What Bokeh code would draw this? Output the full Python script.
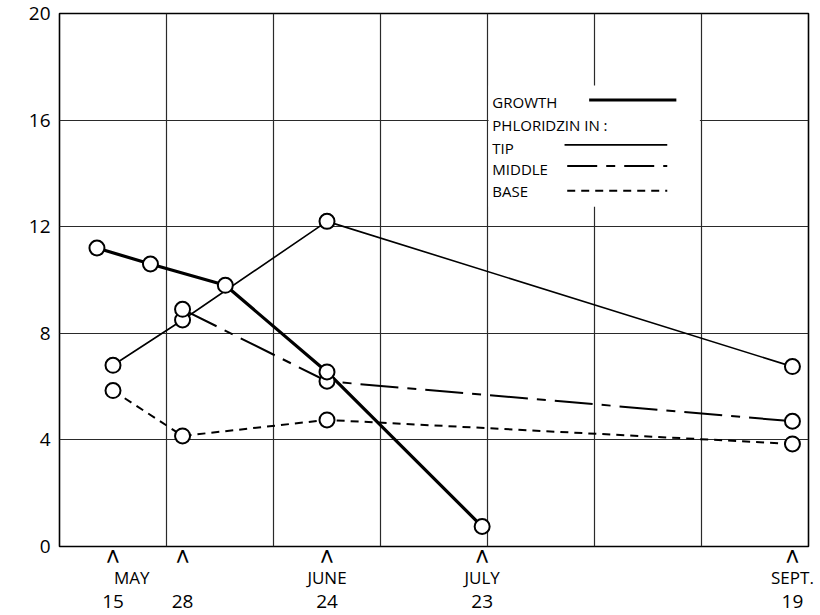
from bokeh.plotting import figure
from bokeh.models import Range1d, FixedTicker, Label, LinearAxis
from bokeh.embed import file_html
from bokeh.resources import INLINE

# x values: days after May 1 (May 15 = 14, Sept 19 = 141)
growth_day = [11, 21, 35, 54, 83]
growth_val = [11.2, 10.6, 9.8, 6.55, 0.75]
tip_day = [14, 27, 54, 141]
tip_val = [6.8, 8.5, 12.2, 6.75]
middle_day = [27, 54, 141]
middle_val = [8.9, 6.2, 4.7]
base_day = [14, 27, 54, 141]
base_val = [5.85, 4.15, 4.75, 3.85]

date_ticks = [14, 27, 54, 83, 141]
day_labels = ["15", "28", "24", "23", "19"]
month_ticks = [17.5, 54, 83, 141]
month_labels = ["MAY", "JUNE", "JULY", "SEPT."]
y_ticks = [0, 4, 8, 12, 16, 20]
x_grid = [4, 24, 44, 64, 84, 104, 124, 144]

legend_names = ["GROWTH", "PHLORIDZIN IN :", "TIP", "MIDDLE", "BASE"]

FONT = "Open Sans"

p = figure(frame_width=749, frame_height=533, x_range=Range1d(4, 144), y_range=Range1d(0, 20),
           output_backend="svg", toolbar_location=None,
           min_border_left=59, min_border_right=8, min_border_top=13, min_border_bottom=68)
p.xgrid.ticker = FixedTicker(ticks=x_grid)
p.ygrid.ticker = FixedTicker(ticks=y_ticks)
for g in (p.xgrid, p.ygrid):
    g.grid_line_color = "#2a2a2a"
    g.grid_line_width = 1.2
    g.grid_line_alpha = 1.0
p.outline_line_color = "black"
p.outline_line_width = 1.6
p.background_fill_color = "white"
p.border_fill_color = "white"


def plain(ax):
    ax.axis_line_color = None
    ax.major_tick_line_color = None
    ax.minor_tick_line_color = None
    ax.major_tick_out = 0
    ax.major_tick_in = 0
    ax.minor_tick_out = 0
    ax.minor_tick_in = 0
    ax.major_label_text_color = "black"
    ax.major_label_text_font = FONT


# y axis
ya = p.yaxis[0]
plain(ya)
ya.ticker = FixedTicker(ticks=y_ticks)
ya.major_label_text_font_size = "19px"
ya.major_label_standoff = 9

# x axes: date marks, months, days
xa = p.xaxis[0]
plain(xa)
xa.ticker = FixedTicker(ticks=date_ticks)
xa.major_label_overrides = {d: "\u22c0" for d in date_ticks}
xa.major_label_text_font = "DejaVu Sans"
xa.major_label_text_font_style = "bold"
xa.major_label_text_font_size = "14px"
xa.major_label_standoff = 0

xm = LinearAxis()
plain(xm)
xm.ticker = FixedTicker(ticks=month_ticks)
xm.major_label_overrides = dict(zip(month_ticks, month_labels))
xm.major_label_text_font_size = "17px"
xm.major_label_standoff = 0
p.add_layout(xm, "below")

xd = LinearAxis()
plain(xd)
xd.ticker = FixedTicker(ticks=date_ticks)
xd.major_label_overrides = dict(zip(date_ticks, day_labels))
xd.major_label_text_font_size = "19px"
xd.major_label_standoff = 3
p.add_layout(xd, "below")

# data lines
p.line(tip_day, tip_val, line_color="black", line_width=1.6)
p.line(middle_day, middle_val, line_color="black", line_width=2, line_dash="38 9 9 9")
p.line(base_day, base_val, line_color="black", line_width=2, line_dash="8 6")
p.line(growth_day, growth_val, line_color="black", line_width=3.2)

for xs, ys in ((tip_day, tip_val), (middle_day, middle_val), (base_day, base_val), (growth_day, growth_val)):
    p.scatter(xs, ys, marker="circle", size=15, fill_color="white", line_color="black", line_width=2)

# legend panel over the grid
p.quad(left=[84.2], right=[123.7], bottom=[12.75], top=[17.3], fill_color="white", line_alpha=0)
legend_y = [16.67, 15.81, 14.95, 14.17, 13.35]
for name, ly in zip(legend_names, legend_y):
    p.add_layout(Label(x=84.9, y=ly, text=name, text_font=FONT, text_font_size="15px",
                       text_color="black", text_baseline="middle", text_align="left"))
p.line([103.0, 119.3], [16.75, 16.75], line_color="black", line_width=3)
p.line([98.4, 117.6], [15.07, 15.07], line_color="black", line_width=1.6)
p.line([98.9, 117.6], [14.28, 14.28], line_color="black", line_width=2, line_dash="30 9 9 9")
p.line([98.9, 117.6], [13.35, 13.35], line_color="black", line_width=2, line_dash="8 6")

open("out.html", "w").write(file_html(p, INLINE))
